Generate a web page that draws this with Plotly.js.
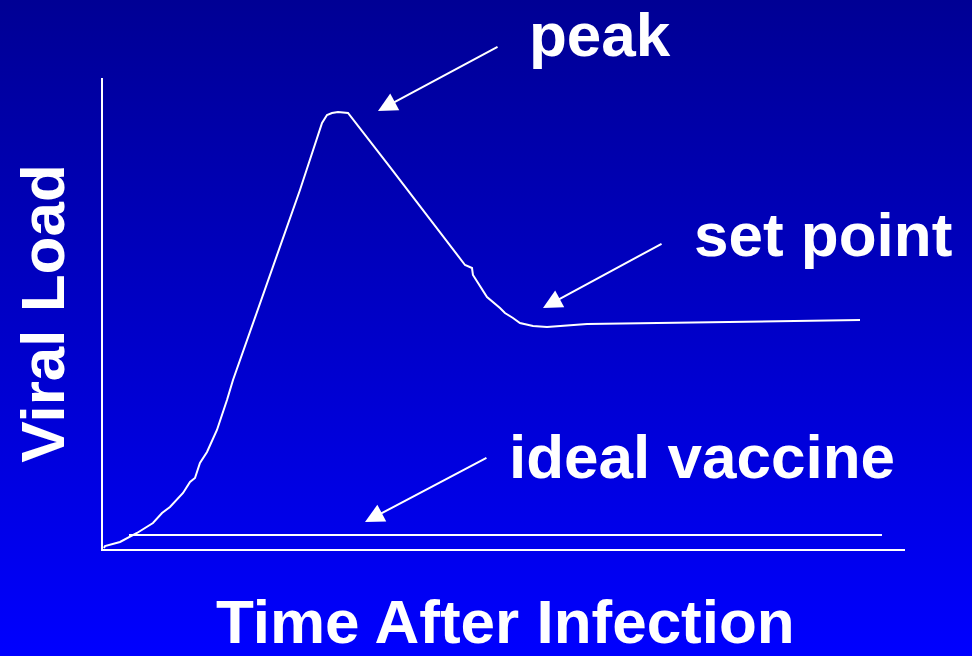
<!DOCTYPE html>
<html>
<head>
<meta charset="utf-8">
<script src="https://cdn.plot.ly/plotly-3.0.1.min.js"></script>
<style>
  html, body { margin: 0; padding: 0; width: 972px; height: 656px; overflow: hidden;
    background: linear-gradient(to bottom, #000094 0%, #0000C8 50%, #0000FF 100%); }
  #chart { width: 972px; height: 656px; }
</style>
</head>
<body>
<div id="chart"></div>
<script>
// Infection curve (arbitrary units)
const timeVals  = [0.12, 0.25, 2.12, 4.24, 6.23, 7.36, 8.35, 9.98, 10.85, 11.47, 12.09, 12.97, 14.21, 14.96, 15.46, 16.21, 21.45, 24.56, 27.31, 27.93, 28.55, 29.30, 30.55, 31.42, 35.79, 45.14, 46.01, 46.13, 47.88, 49.50, 50.12, 51.12, 51.99, 53.62, 55.36, 60.35, 94.39];
const viralLoad = [0.21, 0.64, 1.49, 3.40, 5.52, 7.64, 8.92, 11.89, 14.23, 15.07, 18.26, 20.59, 25.27, 28.87, 31.63, 35.88, 61.36, 76.22, 90.45, 92.14, 92.57, 92.78, 92.57, 90.66, 81.10, 60.30, 59.66, 58.17, 53.50, 51.17, 50.11, 49.04, 47.98, 47.35, 47.13, 47.77, 48.62];
// Ideal vaccine line
const idealTime = [3.24, 97.13];
const idealLoad = [2.97, 2.97];
// Labels
const labelTexts = ['peak', 'set point', 'ideal vaccine'];
const arrowTipX  = [34.29, 54.86, 32.67];
const arrowTipY  = [93.0, 51.17, 5.73];
const arrowTailX = [49.38, 69.83, 48.0];
const arrowTailY = [106.8, 64.97, 19.53];
const xTitle = 'Time After Infection';
const yTitle = 'Viral Load';

const FONT = '"Liberation Sans", Arial, Helvetica, sans-serif';
const traces = [
  { x: timeVals, y: viralLoad, type: 'scatter', mode: 'lines',
    line: { color: '#ffffff', width: 2 }, hoverinfo: 'skip', showlegend: false, cliponaxis: false },
  { x: idealTime, y: idealLoad, type: 'scatter', mode: 'lines',
    line: { color: '#ffffff', width: 2 }, hoverinfo: 'skip', showlegend: false, cliponaxis: false }
];

// plot area: x 103..905, y 78..549
const L = 103, R = 905, T = 78, B = 549;
const px = v => (v - L) / (R - L);
const py = v => (B - v) / (B - T);

const labelPos = [ [527, 34.5], [692, 234], [507, 456] ];
const annotations = [];
labelTexts.forEach((t, i) => {
  annotations.push({ text: t, xref: 'paper', yref: 'paper', x: px(labelPos[i][0]), y: py(labelPos[i][1]),
    xanchor: 'left', yanchor: 'middle', showarrow: false,
    font: { family: FONT, size: 62, color: '#ffffff', weight: 'bold' } });
  annotations.push({ text: '', xref: 'x', yref: 'y', x: arrowTipX[i], y: arrowTipY[i],
    axref: 'x', ayref: 'y', ax: arrowTailX[i], ay: arrowTailY[i],
    showarrow: true, arrowhead: 2, arrowsize: 1.9, arrowwidth: 2, arrowcolor: '#ffffff', standoff: 0, startstandoff: 0 });
});
// x-axis title placed as annotation, kept fully inside the bottom edge
annotations.push({ text: xTitle, xref: 'paper', yref: 'paper', x: px(505), y: py(621),
  xanchor: 'center', yanchor: 'middle', showarrow: false,
  font: { family: FONT, size: 62, color: '#ffffff', weight: 'bold' } });

const layout = {
  width: 972, height: 656,
  margin: { l: L, r: 972 - R, t: T, b: 656 - B, pad: 0 },
  paper_bgcolor: 'rgba(0,0,0,0)', plot_bgcolor: 'rgba(0,0,0,0)',
  showlegend: false,
  font: { family: FONT, color: '#ffffff' },
  xaxis: { range: [0, 100], showgrid: false, zeroline: false, showticklabels: false, ticks: '',
    showline: true, linecolor: '#ffffff', linewidth: 2, fixedrange: true },
  yaxis: { range: [0, 100], showgrid: false, zeroline: false, showticklabels: false, ticks: '',
    showline: true, linecolor: '#ffffff', linewidth: 2, fixedrange: true,
    title: { text: yTitle, standoff: 16, font: { family: FONT, size: 62, color: '#ffffff', weight: 'bold' } } },
  annotations: annotations,
  hovermode: false
};

Plotly.newPlot('chart', traces, layout, { displayModeBar: false, staticPlot: true });
</script>
</body>
</html>
